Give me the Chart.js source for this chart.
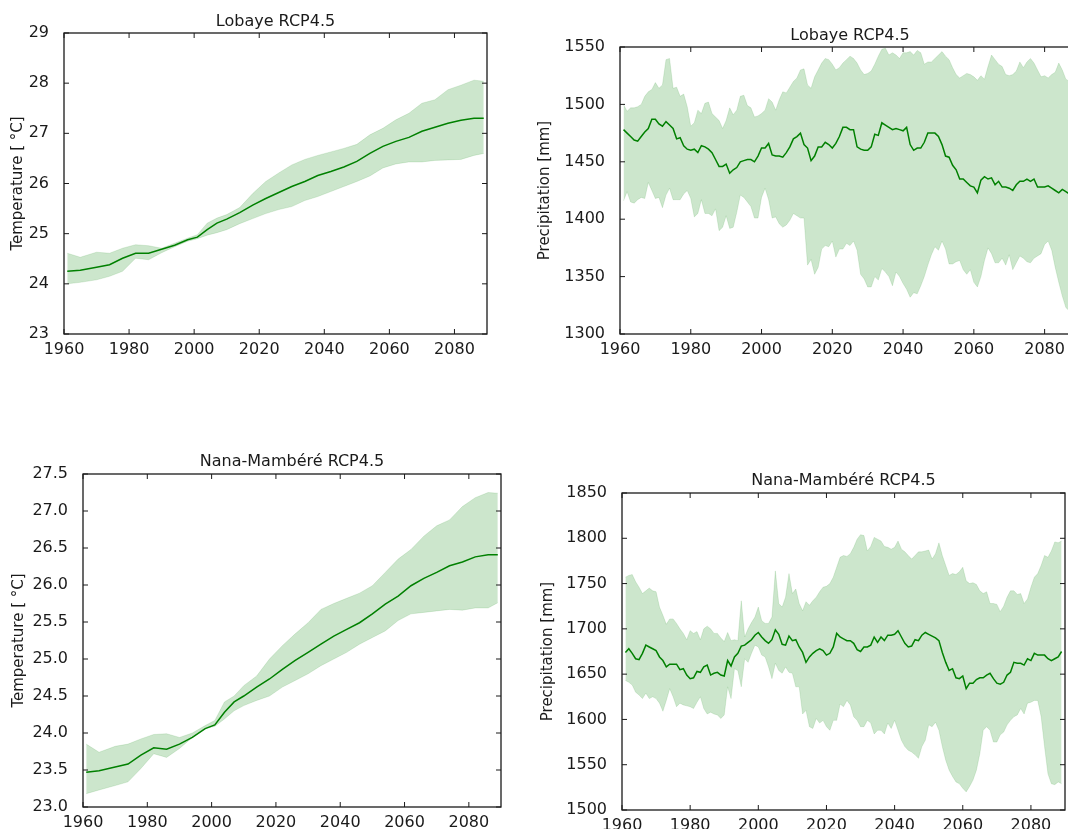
<!DOCTYPE html>
<html>
<head>
<meta charset="utf-8">
<title>Lobaye / Nana-Mambéré RCP4.5</title>
<script src="https://cdn.jsdelivr.net/npm/chart.js@4.4.1/dist/chart.umd.min.js"></script>
<style>
  html, body { margin: 0; padding: 0; background: #fff; width: 1068px; height: 829px; overflow: hidden; }
  #wrap { position: relative; width: 1068px; height: 829px; overflow: hidden; }
  #wrap canvas { position: absolute; }
</style>
</head>
<body>
<div id="wrap"></div>
<script>
// temperature panels: sampled years (running mean, ensemble range)
const tYears = [1961, 1965, 1970, 1974, 1978, 1982, 1986, 1990, 1994, 1998, 2001, 2004, 2007, 2010, 2014, 2018, 2022,
  2026, 2030, 2034, 2038, 2042, 2046, 2050, 2054, 2058, 2062, 2066, 2070, 2074, 2078, 2082, 2086, 2089];

const lobTempMean = [24.25, 24.27, 24.33, 24.38, 24.51, 24.61, 24.61, 24.69, 24.77, 24.88, 24.93, 25.08, 25.21, 25.29, 25.42, 25.57, 25.70,
  25.82, 25.94, 26.04, 26.16, 26.24, 26.33, 26.44, 26.60, 26.74, 26.84, 26.92, 27.04, 27.12, 27.20, 27.26, 27.30, 27.30];
const lobTempHi = [24.61, 24.53, 24.63, 24.61, 24.71, 24.78, 24.76, 24.71, 24.81, 24.91, 24.98, 25.21, 25.31, 25.38, 25.52, 25.80, 26.04,
  26.21, 26.37, 26.48, 26.56, 26.63, 26.70, 26.78, 26.97, 27.10, 27.27, 27.40, 27.60, 27.67, 27.87, 27.96, 28.06, 28.04];
const lobTempLo = [24.00, 24.03, 24.08, 24.15, 24.25, 24.51, 24.48, 24.62, 24.74, 24.85, 24.90, 24.97, 25.02, 25.08, 25.20, 25.30, 25.40,
  25.48, 25.54, 25.66, 25.74, 25.84, 25.94, 26.04, 26.15, 26.31, 26.39, 26.43, 26.43, 26.46, 26.47, 26.48, 26.56, 26.60];

const nanaTempMean = [23.47, 23.49, 23.54, 23.58, 23.70, 23.80, 23.78, 23.85, 23.94, 24.06, 24.11, 24.28, 24.42, 24.50, 24.62, 24.73, 24.86,
  24.98, 25.09, 25.20, 25.31, 25.40, 25.49, 25.61, 25.74, 25.85, 25.99, 26.09, 26.17, 26.26, 26.31, 26.38, 26.41, 26.41];
const nanaTempHi = [23.85, 23.74, 23.82, 23.85, 23.92, 23.98, 23.99, 23.94, 24.00, 24.10, 24.17, 24.42, 24.50, 24.64, 24.77, 25.00, 25.18,
  25.34, 25.49, 25.67, 25.75, 25.82, 25.89, 25.99, 26.17, 26.35, 26.48, 26.66, 26.80, 26.88, 27.06, 27.18, 27.25, 27.24];
const nanaTempLo = [23.18, 23.23, 23.29, 23.34, 23.52, 23.72, 23.67, 23.79, 23.94, 24.06, 24.09, 24.19, 24.30, 24.37, 24.44, 24.50, 24.62,
  24.71, 24.80, 24.91, 25.00, 25.09, 25.20, 25.29, 25.38, 25.52, 25.61, 25.63, 25.65, 25.67, 25.66, 25.69, 25.69, 25.76];

// precipitation panels: one value per year 1961..2089
const pYears = Array.from({ length: 129 }, (_, i) => 1961 + i);

const lobPrecMean = [
  1478, 1475, 1472, 1469, 1468, 1472, 1476, 1479, 1487, 1487,
  1483, 1481, 1485, 1482, 1479, 1470, 1471, 1464, 1461, 1460,
  1461, 1458, 1464, 1463, 1461, 1458, 1452, 1446, 1446, 1448,
  1440, 1443, 1445, 1450, 1451, 1452, 1452, 1450, 1455, 1462,
  1462, 1466, 1456, 1455, 1455, 1454, 1458, 1463, 1470, 1472,
  1475, 1465, 1462, 1451, 1455, 1463, 1463, 1467, 1465, 1462,
  1466, 1472, 1480, 1480, 1478, 1478, 1463, 1461, 1460, 1460,
  1463, 1474, 1473, 1484, 1482, 1480, 1478, 1479, 1478, 1477,
  1480, 1465, 1460, 1462, 1462, 1467, 1475, 1475, 1475, 1472,
  1465, 1455, 1454, 1447, 1443, 1435, 1435, 1432, 1429, 1428,
  1423, 1434, 1437, 1435, 1436, 1430, 1433, 1428, 1428, 1427,
  1425, 1430, 1433, 1433, 1435, 1433, 1435, 1428, 1428, 1428,
  1429, 1427, 1425, 1423, 1426, 1424, 1422, 1422, 1421];
const lobPrecHi = [
  1500, 1494, 1497, 1497, 1498, 1500, 1507, 1511, 1513, 1519,
  1514, 1517, 1539, 1540, 1514, 1515, 1507, 1509, 1498, 1481,
  1484, 1495, 1492, 1501, 1502, 1492, 1489, 1486, 1479, 1486,
  1497, 1491, 1495, 1507, 1508, 1499, 1497, 1489, 1490, 1492,
  1495, 1505, 1502, 1495, 1504, 1511, 1510, 1515, 1520, 1523,
  1530, 1531, 1517, 1514, 1524, 1530, 1536, 1540, 1539, 1535,
  1530, 1532, 1536, 1539, 1542, 1540, 1536, 1530, 1526, 1527,
  1529, 1535, 1542, 1548, 1549, 1543, 1545, 1543, 1540, 1545,
  1545, 1546, 1543, 1547, 1545, 1535, 1537, 1537, 1540, 1543,
  1546, 1542, 1539, 1532, 1526, 1523, 1525, 1527, 1526, 1524,
  1521, 1525, 1522, 1533, 1543, 1539, 1535, 1533, 1526, 1525,
  1526, 1529, 1537, 1532, 1537, 1540, 1536, 1530, 1524, 1525,
  1523, 1526, 1528, 1536, 1530, 1522, 1520, 1519, 1520];
const lobPrecLo = [
  1416, 1424, 1415, 1414, 1417, 1419, 1418, 1432, 1425, 1418,
  1419, 1410, 1421, 1427, 1417, 1417, 1417, 1422, 1425, 1418,
  1402, 1405, 1417, 1405, 1405, 1403, 1409, 1390, 1393, 1403,
  1392, 1393, 1406, 1421, 1419, 1415, 1411, 1401, 1401, 1419,
  1427, 1417, 1401, 1402, 1396, 1393, 1395, 1399, 1405, 1403,
  1401, 1401, 1360, 1365, 1352, 1358, 1374, 1377, 1376, 1381,
  1367, 1374, 1374, 1379, 1377, 1381, 1373, 1352, 1348, 1341,
  1341, 1350, 1347, 1357, 1354, 1350, 1342, 1354, 1350, 1344,
  1339, 1332, 1336, 1335, 1342, 1350, 1360, 1369, 1376, 1373,
  1381, 1374, 1361, 1361, 1363, 1364, 1356, 1352, 1356, 1345,
  1341, 1350, 1364, 1375, 1370, 1362, 1362, 1366, 1360, 1369,
  1356, 1362, 1368, 1366, 1363, 1362, 1366, 1368, 1370, 1378,
  1381, 1373, 1358, 1345, 1333, 1323, 1320, 1321, 1322];

const nanaPrecMean = [
  1674, 1678, 1673, 1667, 1666, 1673, 1682, 1680, 1678, 1676,
  1669, 1665, 1658, 1661, 1661, 1661, 1655, 1656, 1649, 1645,
  1646, 1653, 1652, 1658, 1660, 1649, 1651, 1652, 1649, 1648,
  1665, 1659, 1669, 1673, 1681, 1682, 1685, 1688, 1693, 1696,
  1691, 1687, 1684, 1688, 1699, 1694, 1683, 1682, 1692, 1687,
  1688, 1680, 1674, 1663, 1669, 1673, 1676, 1678, 1676, 1671,
  1673, 1680, 1695, 1691, 1689, 1687, 1687, 1684, 1677, 1675,
  1680, 1680, 1682, 1691, 1685, 1691, 1687, 1693, 1693, 1694,
  1698, 1691, 1684, 1680, 1681, 1688, 1687, 1693, 1696, 1694,
  1692, 1690, 1687, 1674, 1663, 1654, 1656, 1646, 1645, 1648,
  1634, 1640, 1640, 1644, 1646, 1646, 1649, 1651, 1645, 1640,
  1639, 1641, 1649, 1652, 1663, 1662, 1662, 1660, 1667, 1665,
  1673, 1671, 1671, 1671, 1667, 1665, 1667, 1669, 1675];
const nanaPrecHi = [
  1757, 1759, 1760, 1752, 1746, 1739, 1742, 1745, 1742, 1741,
  1724, 1715, 1705, 1711, 1711, 1706, 1700, 1695, 1688, 1698,
  1695, 1697, 1688, 1700, 1703, 1700, 1695, 1695, 1690, 1686,
  1696, 1687, 1688, 1687, 1731, 1691, 1700, 1707, 1713, 1724,
  1709, 1706, 1706, 1713, 1764, 1728, 1724, 1735, 1761, 1739,
  1744, 1728, 1720, 1730, 1726, 1731, 1735, 1741, 1746, 1747,
  1750, 1757, 1768, 1779, 1781, 1780, 1783, 1790, 1799, 1804,
  1803, 1786, 1791, 1801, 1799, 1797, 1791, 1790, 1788, 1790,
  1797, 1788, 1785, 1781, 1777, 1781, 1785, 1785, 1786, 1787,
  1777, 1783, 1795, 1781, 1770, 1759, 1761, 1760, 1763, 1768,
  1753, 1750, 1751, 1749, 1742, 1739, 1741, 1728, 1728, 1727,
  1719, 1725, 1735, 1742, 1742, 1738, 1739, 1728, 1733, 1746,
  1757, 1761, 1770, 1781, 1779, 1786, 1796, 1795, 1797];
const nanaPrecLo = [
  1643, 1641, 1638, 1630, 1627, 1623, 1629, 1623, 1625, 1623,
  1618, 1609, 1621, 1634, 1625, 1614, 1618, 1616, 1615, 1614,
  1612, 1619, 1625, 1612, 1606, 1608, 1606, 1605, 1601, 1605,
  1636, 1623, 1656, 1654, 1636, 1667, 1663, 1673, 1682, 1680,
  1671, 1669, 1658, 1645, 1662, 1654, 1651, 1658, 1652, 1651,
  1636, 1636, 1606, 1610, 1592, 1590, 1601, 1596, 1599, 1592,
  1588, 1599, 1599, 1617, 1614, 1621, 1616, 1603, 1599, 1592,
  1592, 1599, 1596, 1584, 1588, 1588, 1584, 1596, 1590, 1599,
  1588, 1577, 1570, 1566, 1564, 1561, 1557, 1570, 1577, 1594,
  1592, 1597, 1588, 1570, 1555, 1544, 1537, 1531, 1529, 1524,
  1520, 1526, 1533, 1544, 1562, 1588, 1592, 1588, 1575, 1575,
  1583, 1586, 1594, 1599, 1603, 1605, 1612, 1606, 1618, 1619,
  1621, 1621, 1603, 1570, 1540, 1529, 1528, 1531, 1529];

const FONT = 'DejaVu Sans';
const INK = '#1a1a1a';
const LINE_GREEN = '#008000';
const BAND_FILL = 'rgba(0, 128, 0, 0.2)';
const BAND_EDGE = 'rgba(0, 128, 0, 0.12)';

// box around the plot area with inward ticks on all four sides
const framePlugin = {
  id: 'frame',
  afterDatasetsDraw(chart) {
    const { ctx, chartArea: a, scales: { x, y } } = chart;
    const len = 5;
    ctx.save();
    ctx.strokeStyle = INK;
    ctx.lineWidth = 1;
    ctx.beginPath();
    x.ticks.forEach(t => {
      const px = x.getPixelForValue(t.value);
      ctx.moveTo(px, a.bottom); ctx.lineTo(px, a.bottom - len);
      ctx.moveTo(px, a.top); ctx.lineTo(px, a.top + len);
    });
    y.ticks.forEach(t => {
      const py = y.getPixelForValue(t.value);
      ctx.moveTo(a.left, py); ctx.lineTo(a.left + len, py);
      ctx.moveTo(a.right, py); ctx.lineTo(a.right - len, py);
    });
    ctx.stroke();
    ctx.lineWidth = 1.3;
    ctx.strokeRect(a.left, a.top, a.right - a.left, a.bottom - a.top);
    ctx.restore();
  }
};

function pts(years, vals) {
  return years.map((yr, i) => ({ x: yr, y: vals[i] }));
}

function makePanel(p) {
  const side = p.L - p.cLeft;          // y-axis room, mirrored on the right so the title centres
  const top = p.T - 30;
  const width = p.R + side - p.cLeft;
  const height = p.B - top + 30;
  const canvas = document.createElement('canvas');
  canvas.width = width;
  canvas.height = height;
  canvas.style.left = p.cLeft + 'px';
  canvas.style.top = top + 'px';
  canvas.style.width = width + 'px';
  canvas.style.height = height + 'px';
  document.getElementById('wrap').appendChild(canvas);

  new Chart(canvas, {
    type: 'line',
    data: {
      datasets: [
        { data: pts(p.years, p.mean), borderColor: LINE_GREEN, borderWidth: 1.5, fill: false },
        { data: pts(p.years, p.hi), borderColor: BAND_EDGE, borderWidth: 1, backgroundColor: BAND_FILL, fill: '+1' },
        { data: pts(p.years, p.lo), borderColor: BAND_EDGE, borderWidth: 1, fill: false }
      ]
    },
    options: {
      responsive: false,
      animation: false,
      devicePixelRatio: 1,
      elements: { point: { radius: 0 }, line: { tension: 0 } },
      layout: { padding: { left: 0, right: side, top: 0, bottom: 0 } },
      plugins: {
        legend: { display: false },
        tooltip: { enabled: false },
        title: {
          display: true, text: p.title, fullSize: false, color: INK,
          font: { family: FONT, size: 16, weight: 'normal' },
          padding: { top: 30 - 19.2 - p.titleGap, bottom: p.titleGap }
        }
      },
      scales: {
        x: {
          type: 'linear', min: 1960, max: 2090,
          grid: { display: false }, border: { display: false },
          ticks: {
            stepSize: 20, includeBounds: false, maxRotation: 0, autoSkip: false,
            padding: -2, color: INK, font: { family: FONT, size: 16 },
            callback: v => String(v)
          },
          afterFit: s => { s.height = 30; }
        },
        y: {
          min: p.yMin, max: p.yMax,
          grid: { display: false }, border: { display: false },
          ticks: {
            stepSize: p.yStep, padding: 7, color: INK, font: { family: FONT, size: 16 },
            callback: p.yFmt
          },
          title: {
            display: true, text: p.yTitle, color: INK,
            font: { family: FONT, size: 15 }, padding: { top: p.yTitlePad, bottom: 0 }
          },
          afterFit: s => { s.width = side; }
        }
      }
    },
    plugins: [framePlugin]
  });
}

const tempLabel = 'Temperature [ °C]';
const precLabel = 'Precipitation [mm]';

makePanel({ title: 'Lobaye RCP4.5', years: tYears, mean: lobTempMean, hi: lobTempHi, lo: lobTempLo,
  yMin: 23, yMax: 29, yStep: 1, yFmt: v => String(v), yTitle: tempLabel,
  L: 64, T: 33, R: 487, B: 334, cLeft: 0, yTitlePad: 9.3, titleGap: 1.5 });
makePanel({ title: 'Lobaye RCP4.5', years: pYears, mean: lobPrecMean, hi: lobPrecHi, lo: lobPrecLo,
  yMin: 1300, yMax: 1550, yStep: 50, yFmt: v => String(v), yTitle: precLabel,
  L: 620, T: 47, R: 1080, B: 334, cLeft: 530, yTitlePad: 6, titleGap: 1.5 });
makePanel({ title: 'Nana-Mambéré RCP4.5', years: tYears, mean: nanaTempMean, hi: nanaTempHi, lo: nanaTempLo,
  yMin: 23, yMax: 27.5, yStep: 0.5, yFmt: v => v.toFixed(1), yTitle: tempLabel,
  L: 83, T: 474, R: 501, B: 807, cLeft: 0, yTitlePad: 10.3, titleGap: 3 });
makePanel({ title: 'Nana-Mambéré RCP4.5', years: pYears, mean: nanaPrecMean, hi: nanaPrecHi, lo: nanaPrecLo,
  yMin: 1500, yMax: 1850, yStep: 50, yFmt: v => String(v), yTitle: precLabel,
  L: 622, T: 493, R: 1065, B: 810, cLeft: 530, yTitlePad: 9.5, titleGap: 3 });
</script>
</body>
</html>
